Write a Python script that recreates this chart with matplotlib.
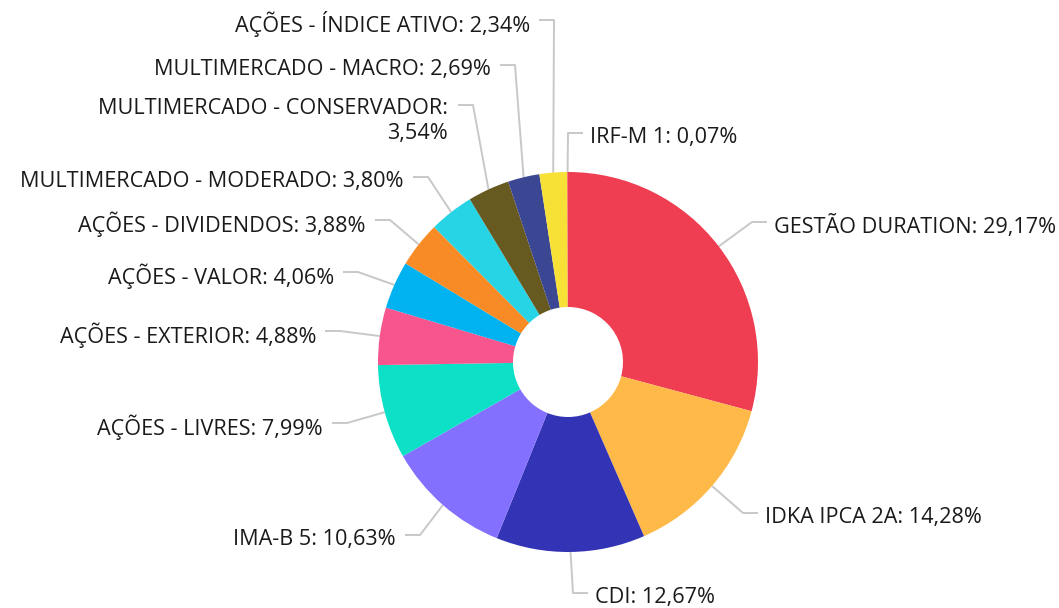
import numpy as np
import matplotlib.pyplot as plt

W, H = 1059, 608

categorias = ["GESTÃO DURATION", "IDKA IPCA 2A", "CDI", "IMA-B 5", "AÇÕES - LIVRES",
              "AÇÕES - EXTERIOR", "AÇÕES - VALOR", "AÇÕES - DIVIDENDOS",
              "MULTIMERCADO - MODERADO", "MULTIMERCADO - CONSERVADOR",
              "MULTIMERCADO - MACRO", "AÇÕES - ÍNDICE ATIVO", "IRF-M 1"]
valores = [29.17, 14.28, 12.67, 10.63, 7.99, 4.88, 4.06, 3.88, 3.80, 3.54, 2.69, 2.34, 0.07]
cores = ["#EF3E52", "#FFB948", "#3333B5", "#8470FF", "#0CE0C6", "#F6558D", "#00B2F0",
         "#F88B25", "#27D4E6", "#665A21", "#3C4793", "#F8E136", "#F45B5B"]

# ponto de dobra de cada conector (pixels, origem no topo)
dobras = [(752, 222), (743, 513), (573, 593), (420, 535), (347, 423), (340, 331),
          (358, 272), (390, 220), (428, 177), (473, 105), (515, 65), (554, 20), (568, 133)]

plt.rcParams['font.family'] = ['Open Sans', 'DejaVu Sans']

fig = plt.figure(figsize=(W / 100, H / 100), dpi=100)
ax = fig.add_axes([0, 0, 1, 1])

cx, cy, R, r_in = 568, H - 362, 190, 55

ax.pie(valores, colors=cores, startangle=90, counterclock=False,
       center=(cx, cy), radius=R, frame=True,
       wedgeprops=dict(width=R - r_in, linewidth=0))
ax.set_xlim(0, W)
ax.set_ylim(0, H)
ax.set_aspect('equal')
ax.axis('off')

fs = 15.6
total = sum(valores)
acum = 0
for nome, v, (ex, ey) in zip(categorias, valores, dobras):
    meio = (acum + v / 2) / total * 2 * np.pi
    acum += v
    ax_, ay_ = cx + R * np.sin(meio), cy + R * np.cos(meio)
    ey = H - ey
    direita = ax_ >= cx - 1
    lado = 1 if direita else -1
    fim = ex + lado * 15
    ax.plot([ax_, ex, fim], [ay_, ey, ey], color='#C8C8C8', lw=1.4,
            solid_capstyle='butt', zorder=0)
    txt = f"{nome}: {v:.2f}%".replace('.', ',')
    if nome == "MULTIMERCADO - CONSERVADOR":
        txt = txt.replace(": ", ":\n")
        ax.text(fim - 10, ey - 16, txt, ha='right', va='center', fontsize=fs,
                color='#1a1a1a', multialignment='right', linespacing=1.25)
        continue
    ax.text(fim + (7 if direita else -9), ey - 4, txt,
            ha='left' if direita else 'right', va='center', fontsize=fs, color='#1a1a1a')

fig.savefig("out.png", dpi=100, facecolor='white')
